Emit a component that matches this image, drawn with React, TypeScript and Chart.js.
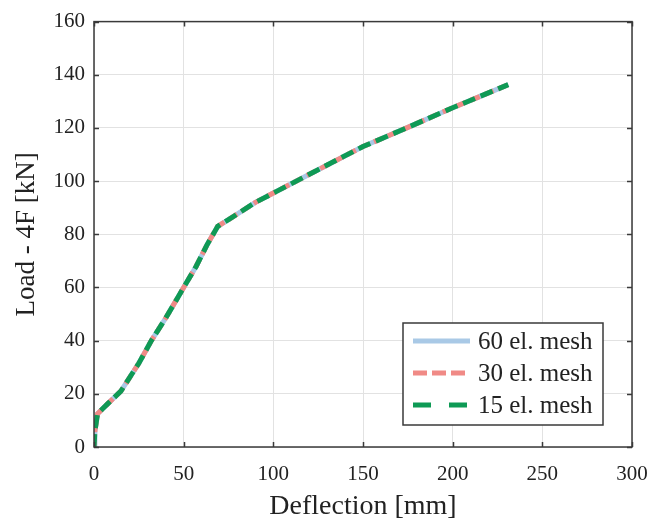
import React, { useEffect, useRef } from 'react';
import { Chart, registerables } from 'chart.js';

Chart.register(...registerables);

// ---- data ----
const deflection = [0, 0.5, 2, 8, 15, 25, 32, 40, 50, 57, 63, 69, 75, 90, 100, 125, 150, 175, 200, 215, 231];
const load60 = [0, 6, 12.5, 16.5, 21, 31.5, 40, 48.5, 60, 68, 76, 83, 85.5, 92, 95.5, 104.3, 113, 120.2, 127.6, 131.8, 136.3];
const load30 = [0, 6, 12.5, 16.5, 21, 31.5, 40, 48.5, 60, 68, 76, 83, 85.5, 92, 95.5, 104.3, 113, 120.2, 127.6, 131.8, 136.3];
const load15 = [0, 6, 12.5, 16.5, 21, 31.5, 40, 48.5, 60, 68, 76, 83, 85.5, 92, 95.5, 104.3, 113, 120.2, 127.6, 131.8, 136.3];
const seriesLabels = ['60 el. mesh', '30 el. mesh', '15 el. mesh'];
const xTicks = [0, 50, 100, 150, 200, 250, 300];
const yTicks = [0, 20, 40, 60, 80, 100, 120, 140, 160];
const xTitle = 'Deflection [mm]';
const yTitle = 'Load - 4F [kN]';

const FONT = "'Liberation Serif', 'Times New Roman', serif";
const colors = ['#a9c9e6', '#f08a86', '#0e9a55'];
const plotDash = [[], [10, 5], [13, 6]];
const legendDash = [[], [14, 5], [18, 18]];

const toPts = (ys: number[]) => deflection.map((x, i) => ({ x, y: ys[i] }));

const framePlugin = {
  id: 'frame',
  afterDraw(chart: any) {
    const { ctx, chartArea, scales } = chart;
    const { left, right, top, bottom } = chartArea;
    const xs = scales.x;
    const ys = scales.y;
    ctx.save();
    ctx.strokeStyle = '#3a3a3a';
    ctx.lineWidth = 1.5;
    const tl = 5;
    ctx.beginPath();
    xTicks.forEach((v) => {
      const px = Math.round(xs.getPixelForValue(v)) + 0.5;
      ctx.moveTo(px, bottom);
      ctx.lineTo(px, bottom - tl);
      ctx.moveTo(px, top);
      ctx.lineTo(px, top + tl);
    });
    yTicks.forEach((v) => {
      const py = Math.round(ys.getPixelForValue(v)) + 0.5;
      ctx.moveTo(left, py);
      ctx.lineTo(left + tl, py);
      ctx.moveTo(right, py);
      ctx.lineTo(right - tl, py);
    });
    ctx.stroke();
    ctx.strokeRect(left, top, right - left, bottom - top);

    // legend
    const bw = 200;
    const bh = 102;
    const bx = right - 29 - bw;
    const by = bottom - 22 - bh;
    ctx.fillStyle = '#ffffff';
    ctx.fillRect(bx, by, bw, bh);
    ctx.lineWidth = 1.5;
    ctx.strokeStyle = '#3a3a3a';
    ctx.strokeRect(bx, by, bw, bh);
    ctx.font = `25px ${FONT}`;
    ctx.textBaseline = 'middle';
    ctx.textAlign = 'left';
    seriesLabels.forEach((lab, i) => {
      const cy = by + 18 + i * 32;
      ctx.beginPath();
      ctx.setLineDash(legendDash[i]);
      ctx.strokeStyle = colors[i];
      ctx.lineWidth = 5;
      ctx.moveTo(bx + 10, cy);
      ctx.lineTo(bx + 67, cy);
      ctx.stroke();
      ctx.setLineDash([]);
      ctx.fillStyle = '#222';
      ctx.fillText(lab, bx + 75, cy + 1);
    });
    ctx.restore();
  },
};

export default function App() {
  const ref = useRef<HTMLCanvasElement | null>(null);
  useEffect(() => {
    if (!ref.current) return;
    const loads = [load60, load30, load15];
    const chart = new Chart(ref.current, {
      type: 'scatter',
      data: {
        datasets: loads.map((ys, i) => ({
          label: seriesLabels[i],
          data: toPts(ys),
          showLine: true,
          borderColor: colors[i],
          backgroundColor: colors[i],
          borderWidth: 5,
          borderDash: plotDash[i],
          pointRadius: 0,
          tension: 0,
          order: 2 - i,
        })),
      },
      options: {
        animation: false,
        responsive: false,
        devicePixelRatio: 1,
        layout: { padding: { left: 0, top: 18, right: 32, bottom: 0 } },
        plugins: { legend: { display: false }, tooltip: { enabled: false } },
        scales: {
          x: {
            type: 'linear',
            min: 0,
            max: 300,
            afterBuildTicks: (s: any) => { s.ticks = xTicks.map((v) => ({ value: v })); },
            afterFit: (s: any) => { s.height = 74; },
            grid: { color: '#e2e2e2', lineWidth: 1, drawTicks: false },
            border: { display: false },
            ticks: { color: '#222', font: { family: FONT, size: 21 }, padding: 15, maxRotation: 0 },
            title: { display: true, text: xTitle, color: '#222', font: { family: FONT, size: 28, lineHeight: 1.0 }, padding: { top: 0, bottom: 0 } },
          },
          y: {
            type: 'linear',
            min: 0,
            max: 160,
            afterBuildTicks: (s: any) => { s.ticks = yTicks.map((v) => ({ value: v })); },
            afterFit: (s: any) => { s.width = 94; },
            grid: { color: '#e2e2e2', lineWidth: 1, drawTicks: false },
            border: { display: false },
            ticks: { color: '#222', font: { family: FONT, size: 21 }, padding: 9 },
            title: { display: true, text: yTitle, color: '#222', font: { family: FONT, size: 27 }, padding: { top: 11, bottom: 0 } },
          },
        },
      },
      plugins: [framePlugin],
    });
    return () => chart.destroy();
  }, []);
  return (
    <div style={{ position: 'fixed', left: 0, top: 0, width: 664, height: 521, background: '#fff' }}>
      <canvas ref={ref} width={664} height={521} style={{ display: 'block' }} />
    </div>
  );
}
